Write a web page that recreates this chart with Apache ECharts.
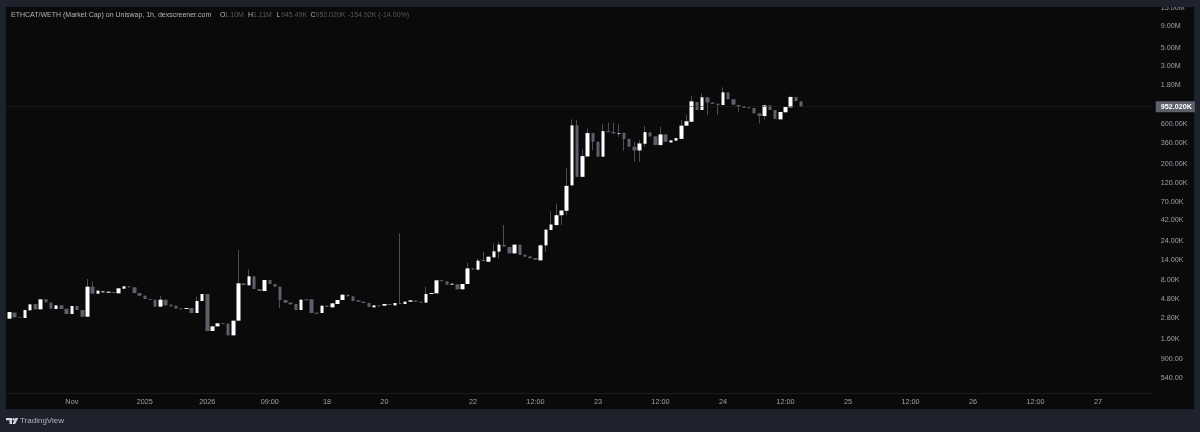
<!DOCTYPE html>
<html><head><meta charset="utf-8">
<style>html,body{margin:0;padding:0;background:#1e222d}#c{width:1200px;height:432px}</style>
<script src="https://cdn.jsdelivr.net/npm/echarts@6/dist/echarts.min.js"></script>
</head><body><div id="c"></div>
<script>
const opens=[2630,3107,2731,2681,3314,3940,3407,4493,4097,3436,
3804,3469,2995,3736,3344,2781,6378,5255,5450,5400,
5502,5303,6035,6437,6264,5352,4969,4531,4450,3667,
4450,3878,3770,3500,3436,3530,3078,4291,5208,1871,
2128,2330,2292,1659,2490,6993,6615,8489,5976,5660,
7669,6870,6378,4410,4097,3950,3344,4490,4490,3107,
3078,3768,3600,3950,4410,5112,4880,4370,4210,4060,
3600,3800,3770,3950,3800,4060,3950,4210,4330,4210,
4100,5210,5300,7600,7400,6740,6800,5930,6870,10580,
10190,13320,12700,14350,16800,20380,19100,16020,20380,15430,
14750,14080,13200,20000,30600,35000,46000,52000,105000,552000,
133000,234000,446000,351000,232000,471000,458000,438000,450000,380000,
306000,276000,332000,454000,407000,320000,430000,344000,362000,380000,
548000,610000,1052000,844000,1199000,1043000,1005000,969000,1377000,1135000,
969000,942000,909000,893000,770000,715000,960000,844000,652000,793000,
909000,1210000,1073000];
const closes=[3160,2731,2681,3344,3912,3407,4493,4132,3469,3804,
3436,2995,3736,3344,2781,6378,5255,5711,5607,5554,
5352,6091,6437,6264,5352,4969,4531,4410,3667,4450,
3804,3700,3469,3407,3530,3078,4291,5208,1871,2128,
2313,2271,1659,2490,6993,6678,8489,5976,5660,7669,
6870,6378,4410,4097,3912,3344,4450,4370,3078,3022,
3768,3634,4021,4410,5112,4880,4290,4210,4060,3634,
3800,3700,3950,3840,4060,3950,4210,4370,4210,4100,
5210,5350,7600,7400,6740,6930,5930,6870,10580,10290,
13080,12950,14610,16950,20380,19270,16020,20380,15300,14610,
13950,13450,20000,30900,35600,46000,52400,103500,552000,133000,
236000,446000,351000,232000,471000,458000,442000,446000,380000,306000,
276000,335000,458000,407000,320000,430000,351000,365000,388000,548000,
618000,1073000,844000,1199000,1043000,1005000,969000,1377000,1135000,978000,
926000,893000,885000,770000,715000,960000,844000,662000,800000,917000,
1210000,1083000,926000];
const highWicks=[[15,7880],[16,7320],[29,4930],[36,4836],[44,17590],[46,10300],[75,27880],[80,6378],[88,12370],[90,13950],[91,16770],[93,21140],[94,22150],[95,35100],[102,20500],[104,51300],[105,63600],[107,168000],[108,652000],[109,640000],[110,284000],[111,508000],[114,572000],[115,595000],[116,595000],[117,572000],[120,351000],[121,368000],[122,542000],[125,532000],[129,640000],[130,735000],[131,1245000],[133,1339000],[137,1580000],[150,1260000]];
const lowWicks=[[52,3520],[94,13970],[103,16700],[106,35000],[107,46000],[112,279000],[117,403000],[118,273000],[120,202000],[121,202000],[122,306000],[134,735000],[136,735000],[140,807000],[144,583000],[145,652000]];
const slotCount=220;
const timeTickSlots=[12,26,38,50,61,72,89,101,113,125,137,149,161,173,185,197,209];
const timeTickLabels=['Nov','2025','2026','09:00','18','20','22','12:00','23','12:00','24','12:00','25','12:00','26','12:00','27'];
const priceTicks=[15000000,9000000,5000000,3000000,1800000,600000,360000,200000,120000,70000,42000,24000,14000,8000,4800,2800,1600,900,540];
const priceTickLabels=['15.00M','9.00M','5.00M','3.00M','1.80M','600.00K','360.00K','200.00K','120.00K','70.00K','42.00K','24.00K','14.00K','8.00K','4.80K','2.80K','1.60K','900.00','540.00'];
const lastPriceLevel=926000;
const lastPriceLabel='952.020K';

const categories=Array.from({length:slotCount},(_,i)=>{const k=timeTickSlots.indexOf(i);return k>=0?timeTickLabels[k]:'';});
const hiMap=new Map(highWicks),loMap=new Map(lowWicks);
const bodyData=opens.map((o,i)=>[o,closes[i],Math.min(o,closes[i]),Math.max(o,closes[i])]);
const wickData=opens.map((o,i)=>[o,closes[i],loMap.get(i)||Math.min(o,closes[i]),hiMap.get(i)||Math.max(o,closes[i])]);

const GRAY='#5d606b',WICK='#4c4e55',FRAME='#1e222d',PANEL='#0a0a0b',AX='#9da0a8';
const FF='"Liberation Sans"';
const chart=echarts.init(document.getElementById('c'),null,{renderer:'canvas'});
const near=(a,b)=>Math.abs(a-b)/b<0.001;
const hdr=(x,t,c)=>({type:'text',z:101,silent:true,x:x,y:11.5,style:{text:t,fill:c,fontSize:7,fontFamily:FF}});
const BR='#b2b5be',DM='#55585f';
chart.setOption({
 animation:false,
 backgroundColor:FRAME,
 textStyle:{fontFamily:FF},
 grid:{left:6.73,right:47.27,top:0,bottom:39,containLabel:false},
 xAxis:{type:'category',data:categories,boundaryGap:true,
   axisLine:{show:true,lineStyle:{color:'#1b1c20',width:1}},axisTick:{show:false},splitLine:{show:false},
   axisLabel:{interval:0,color:AX,fontSize:7.3,margin:5,hideOverlap:false}},
 yAxis:{type:'log',logBase:10,position:'right',min:336.8,max:17700000,scale:true,
   axisLine:{show:false},axisTick:{show:false},splitLine:{show:false},
   axisLabel:{color:AX,fontSize:7.2,margin:8,align:'left',customValues:priceTicks,verticalAlign:'top',lineHeight:4,
     formatter:v=>{const k=priceTicks.findIndex(p=>near(v,p));return k>=0?priceTickLabels[k]:'';}}},
 graphic:[
  {type:'rect',silent:true,z:-10,shape:{x:6,y:7,width:1188,height:402},style:{fill:PANEL}},
  {type:'rect',silent:true,z:100,shape:{x:0,y:0,width:1200,height:7},style:{fill:FRAME}},
  hdr(11,'ETHCAT/WETH (Market Cap) on Uniswap, 1h, dexscreener.com',BR),
  hdr(220,'O',BR),hdr(224.5,'1.10M',DM),
  hdr(248,'H',BR),hdr(253,'1.11M',DM),
  hdr(276.5,'L',BR),hdr(281,'945.49K',DM),
  hdr(310.5,'C',BR),hdr(315.5,'952.020K',DM),
  hdr(348,'-154.92K (-14.00%)',DM),
  {type:'text',z:101,silent:true,x:20,y:417,style:{text:'TradingView',fill:'#b2b5be',fontSize:8,fontFamily:FF}},
  {type:'polygon',z:101,silent:true,shape:{points:[[6,418],[12,418],[12,424],[9.5,424],[9.5,420.3],[6,420.3]]},style:{fill:'#d1d4dc'}},
  {type:'circle',z:101,silent:true,shape:{cx:13.6,cy:419.2,r:1.2},style:{fill:'#d1d4dc'}},
  {type:'polygon',z:101,silent:true,shape:{points:[[15.5,418],[18.3,418],[15.2,424],[12.5,424]]},style:{fill:'#d1d4dc'}}
 ],
 series:[
  {type:'candlestick',name:'wick',data:wickData,barWidth:1,clip:false,z:2,
   itemStyle:{color:WICK,color0:WICK,borderColor:WICK,borderColor0:WICK,borderWidth:1},
   markLine:{silent:true,symbol:'none',animation:false,
     lineStyle:{color:'#25262a',type:'dotted',width:1},
     label:{show:true,position:'end',formatter:lastPriceLabel,color:'#ffffff',backgroundColor:GRAY,fontSize:7.2,fontWeight:'bold',padding:[2,3,2,5],distance:3},
     data:[{yAxis:lastPriceLevel}]}},
  {type:'candlestick',name:'body',data:bodyData,barWidth:4,clip:false,z:3,
   itemStyle:{color:'#ffffff',color0:GRAY,borderColor:'#ffffff',borderColor0:GRAY,borderWidth:0}}
 ]
});
</script></body></html>
